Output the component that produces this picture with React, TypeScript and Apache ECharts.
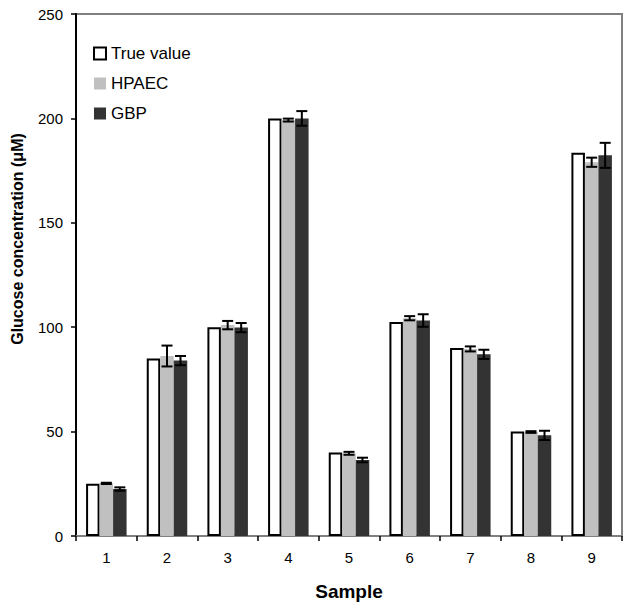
import React, { useEffect, useRef } from "react";
import * as echarts from "echarts";

const categories = ["1", "2", "3", "4", "5", "6", "7", "8", "9"];
const trueValues = [25, 85, 100, 200, 40, 102.5, 90, 50, 183.5];
const hpaecValues = [25.2, 86.2, 101, 199.2, 39.6, 104.3, 89.6, 49.8, 179];
const hpaecErrors = [0.3, 5, 2, 0.7, 0.7, 1, 1.2, 0.4, 2.2];
const gbpValues = [22.5, 84, 99.8, 200, 36.4, 103.2, 87, 48.2, 182.3];
const gbpErrors = [0.8, 2.2, 2.2, 3.5, 1.1, 3, 2.2, 2.2, 6];
const yTicks = { min: 0, max: 250, interval: 50 };

const FONT = '"Liberation Sans", Arial, sans-serif';
const BAR_W = 13.5;

function errorSeries(values: number[], errors: number[], offset: number) {
  return {
    type: "custom",
    silent: true,
    z: 5,
    data: values.map((v, i) => [i, v, errors[i]]),
    renderItem: (params: any, api: any) => {
      const i = api.value(0);
      const v = api.value(1);
      const e = api.value(2);
      const top = api.coord([i, v + e]);
      const bot = api.coord([i, v - e]);
      const cx = top[0] + offset;
      const half = 5.5;
      const style = { stroke: "#000", lineWidth: 2 };
      return {
        type: "group",
        children: [
          { type: "line", shape: { x1: cx, y1: top[1], x2: cx, y2: bot[1] }, style },
          { type: "line", shape: { x1: cx - half, y1: top[1], x2: cx + half, y2: top[1] }, style },
          { type: "line", shape: { x1: cx - half, y1: bot[1], x2: cx + half, y2: bot[1] }, style },
        ],
      };
    },
  };
}

export default function App() {
  const ref = useRef<HTMLDivElement>(null);
  useEffect(() => {
    document.body.style.margin = "0";
    if (!ref.current) return;
    const chart = echarts.init(ref.current, null, { renderer: "svg" });
    chart.setOption({
      animation: false,
      backgroundColor: "#fff",
      textStyle: { fontFamily: FONT },
      grid: {
        left: 76,
        right: 2,
        top: 14,
        bottom: 69,
        show: true,
        borderColor: "#808080",
        borderWidth: 2,
        backgroundColor: "#fff",
      },
      legend: {
        orient: "vertical",
        left: 88,
        top: 40,
        itemWidth: 12,
        itemHeight: 12,
        itemGap: 13,
        icon: "rect",
        textStyle: { fontSize: 17, lineHeight: 17, color: "#000", fontFamily: FONT },
        data: ["True value", "HPAEC", "GBP"],
      },
      xAxis: {
        type: "category",
        data: categories,
        axisLine: { lineStyle: { color: "#808080", width: 2 } },
        axisTick: { show: true, length: 5, lineStyle: { color: "#000", width: 1.5 } },
        axisLabel: { color: "#000", fontSize: 15, margin: 14, fontFamily: FONT },
        splitLine: { show: false },
      },
      yAxis: {
        type: "value",
        min: yTicks.min,
        max: yTicks.max,
        interval: yTicks.interval,
        axisLine: { show: true, lineStyle: { color: "#000", width: 2 } },
        axisTick: { show: true, length: 5, lineStyle: { color: "#000", width: 1.5 } },
        axisLabel: { color: "#000", fontSize: 15, margin: 13, fontFamily: FONT },
        splitLine: { show: false },
      },
      graphic: [
        {
          type: "text",
          x: 17,
          y: 239,
          rotation: Math.PI / 2,
          style: {
            text: "Glucose concentration (\u03bcM)",
            fontSize: 16,
            fontWeight: "bold",
            fontFamily: FONT,
            fill: "#000",
            textAlign: "center",
            textVerticalAlign: "middle",
          },
        },
        {
          type: "text",
          x: 349,
          y: 591,
          style: {
            text: "Sample",
            fontSize: 19,
            fontWeight: "bold",
            fontFamily: FONT,
            fill: "#000",
            textAlign: "center",
            textVerticalAlign: "middle",
          },
        },
      ],
      series: [
        {
          name: "True value",
          type: "bar",
          data: trueValues,
          barWidth: BAR_W,
          barGap: "0%",
          itemStyle: { color: "#fff", borderColor: "#000", borderWidth: 2 },
        },
        {
          name: "HPAEC",
          type: "bar",
          data: hpaecValues,
          barWidth: BAR_W,
          barGap: "0%",
          itemStyle: { color: "#c0c0c0" },
        },
        {
          name: "GBP",
          type: "bar",
          data: gbpValues,
          barWidth: BAR_W,
          barGap: "0%",
          itemStyle: { color: "#333333" },
        },
        errorSeries(hpaecValues, hpaecErrors, 0),
        errorSeries(gbpValues, gbpErrors, BAR_W),
      ],
    });
    return () => chart.dispose();
  }, []);
  return <div ref={ref} style={{ width: 624, height: 605 }} />;
}
